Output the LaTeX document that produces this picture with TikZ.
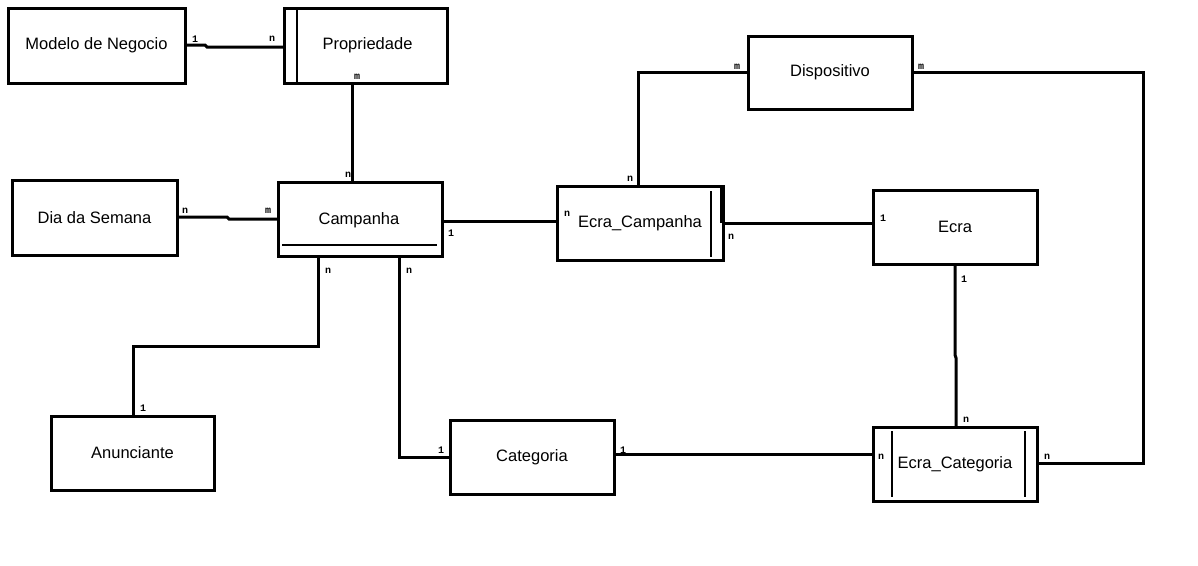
\documentclass[tikz,border=0pt]{standalone}
\usepackage{fontspec}
\setmainfont{Liberation Sans}
\newfontfamily\cardfont{Liberation Mono}
\begin{document}
\begin{tikzpicture}[x=1pt,y=-1pt,
  ent/.style={draw, line width=3pt, inner sep=0pt, outer sep=0pt,
    font=\fontsize{16.5}{19}\selectfont, fill=white},
  link/.style={line width=3pt},
  thin/.style={line width=1.2pt},
  card/.style={inner sep=0pt, font=\cardfont\bfseries\fontsize{10}{10}\selectfont}]
\useasboundingbox[fill=white] (0,0) rectangle (1198,565);

% entities
\node[ent, minimum width=177pt, minimum height=75pt] (mn)   at (96.5,45.5) {Modelo de Negocio};
\node[ent, minimum width=163pt, minimum height=75pt] (prop) at (365.5,45.5) {\hspace*{4pt}Propriedade};
\node[ent, minimum width=165pt, minimum height=75pt] (dia)  at (94.5,217.5) {Dia da Semana};
\node[ent, minimum width=164pt, minimum height=74pt] (camp) at (360,219) {};
\node[font=\fontsize{16.5}{19}\selectfont] (camptxt) at (359,220) {Campanha};
\node[ent, minimum width=164pt, minimum height=73pt] (dev)  at (830,72.5) {Dispositivo};
\node[ent, minimum width=166pt, minimum height=74pt] (ec)   at (640,223) {Ecra\_Campanha};
\node[ent, minimum width=164pt, minimum height=74pt] (ecra) at (955,227) {Ecra};
\node[ent, minimum width=163pt, minimum height=74pt] (anun) at (132.5,453) {Anunciante};
\node[ent, minimum width=164pt, minimum height=74pt] (cat)  at (532,457) {Categoria};
\node[ent, minimum width=164pt, minimum height=74pt] (ecat) at (955,464) {Ecra\_Categoria};

% inner marks of the boxes
\draw[thin] (297,8) -- (297,83);
\draw[thin] (282,245) -- (437,245);
\draw[thin] (711,191) -- (711,257);
\draw[line width=3pt] (721.5,186) -- (721.5,223);
\draw[thin] (892,431) -- (892,497);
\draw[thin] (1025,431) -- (1025,497);

% relationships
\draw[link] (mn.east |- 0,45) -- (205,45) -- (207,47) -- (prop.west |- 0,47);
\draw[link] (352,83) -- (352,182);
\draw[link] (dia.east |- 0,217) -- (227,217) -- (229,219) -- (camp.west |- 0,219);
\draw[link] (camp.east |- 0,221) -- (ec.west |- 0,221);
\draw[link] (ec.east |- 0,223) -- (ecra.west |- 0,223);
\draw[link] (ec.north -| 638,0) -- (638,72) -- (dev.west |- 0,72);
\draw[link] (dev.east |- 0,72) -- (1143,72) -- (1143,463) -- (ecat.east |- 0,463);
\draw[link] (955,264) -- (955,355) -- (956,358) -- (956,427);
\draw[link] (318,256) -- (318,346) -- (133,346) -- (133,416);
\draw[link] (399,256) -- (399,457) -- (cat.west |- 0,457);
\draw[link] (cat.east |- 0,454) -- (ecat.west |- 0,454);

% cardinalities
\node[card] (c1)  at (195,39)  {1};
\node[card] (c2)  at (272,39)  {n};
\node[card] (c3)  at (357,77)  {m};
\node[card] (c4)  at (348,175) {n};
\node[card] (c5)  at (185,211) {n};
\node[card] (c6)  at (268,211) {m};
\node[card] (c7)  at (451,233) {1};
\node[card] (c8)  at (328,271) {n};
\node[card] (c9)  at (409,271) {n};
\node[card] (c10) at (567,214) {n};
\node[card] (c11) at (731,237) {n};
\node[card] (c12) at (883,218) {1};
\node[card] (c13) at (630,179) {n};
\node[card] (c14) at (737,67)  {m};
\node[card] (c15) at (921,67)  {m};
\node[card] (c16) at (964,279) {1};
\node[card] (c17) at (966,420) {n};
\node[card] (c18) at (143,408) {1};
\node[card] (c19) at (441,450) {1};
\node[card] (c20) at (623,450) {1};
\node[card] (c21) at (881,457) {n};
\node[card] (c22) at (1047,457) {n};
\end{tikzpicture}
\end{document}
